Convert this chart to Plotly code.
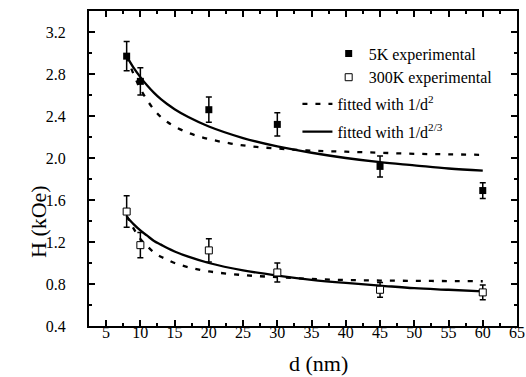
import plotly.graph_objects as go

# experimental data
d_exp = [8, 10, 20, 30, 45, 60]
h_5k = [2.97, 2.73, 2.46, 2.32, 1.92, 1.69]
err_5k = [0.14, 0.13, 0.12, 0.11, 0.10, 0.075]
h_300k = [1.49, 1.17, 1.12, 0.91, 0.745, 0.72]
err_300k = [0.15, 0.12, 0.11, 0.09, 0.07, 0.07]

# fitted curves
d_fit = [8, 9, 10, 11, 12, 13, 14, 15, 17, 20, 25, 30, 35, 40, 45, 50, 55, 60]
fit2_5k = [2.97, 2.80, 2.66, 2.55, 2.46, 2.39, 2.34, 2.30, 2.24, 2.18, 2.12, 2.09, 2.07, 2.06, 2.05, 2.04, 2.035, 2.03]
fit23_5k = [2.97, 2.86, 2.77, 2.69, 2.62, 2.56, 2.51, 2.465, 2.39, 2.30, 2.19, 2.11, 2.05, 2.00, 1.96, 1.93, 1.90, 1.88]
fit2_300k = [1.45, 1.33, 1.23, 1.16, 1.10, 1.06, 1.03, 1.00, 0.96, 0.92, 0.885, 0.865, 0.848, 0.838, 0.833, 0.83, 0.828, 0.826]
fit23_300k = [1.44, 1.37, 1.31, 1.26, 1.21, 1.175, 1.14, 1.11, 1.06, 1.00, 0.93, 0.88, 0.84, 0.81, 0.785, 0.76, 0.745, 0.73]

x_ticks = [5, 10, 15, 20, 25, 30, 35, 40, 45, 50, 55, 60, 65]
y_ticks = [0.4, 0.8, 1.2, 1.6, 2.0, 2.4, 2.8, 3.2]
x_title = "d (nm)"
y_title = "H (kOe)"

FONT = "Liberation Serif, Times New Roman, Times, serif"
fig = go.Figure()

line_kw = dict(width=2.3, color="black")
fig.add_trace(go.Scatter(x=d_fit, y=fit2_5k, mode="lines", line=dict(**line_kw, dash="5px,8px", shape="spline"),
                         name="fitted with 1/d<sup>2</sup>", legend="legend2", legendgroup="f2"))
fig.add_trace(go.Scatter(x=d_fit, y=fit2_300k, mode="lines", line=dict(**line_kw, dash="5px,8px", shape="spline"),
                         showlegend=False))
fig.add_trace(go.Scatter(x=d_fit, y=fit23_5k, mode="lines", line=dict(**line_kw, shape="spline"),
                         name="fitted with 1/d<sup>2/3</sup>", legend="legend2", legendgroup="f23"))
fig.add_trace(go.Scatter(x=d_fit, y=fit23_300k, mode="lines", line=dict(**line_kw, shape="spline"),
                         showlegend=False))

fig.add_trace(go.Scatter(x=d_exp, y=h_5k, mode="markers", name="5K experimental", legend="legend", legendgroup="e5",
                         marker=dict(symbol="square", size=7, color="black"),
                         error_y=dict(type="data", array=err_5k, color="black", thickness=1.5, width=3)))
fig.add_trace(go.Scatter(x=d_exp, y=h_300k, mode="markers", name="300K experimental", legend="legend", legendgroup="e300",
                         marker=dict(symbol="square", size=7, color="white", line=dict(color="black", width=1)),
                         error_y=dict(type="data", array=err_300k, color="black", thickness=1.5, width=3)))

axis_common = dict(showline=True, linecolor="black", linewidth=2, mirror="allticks", ticks="inside",
                   ticklen=6, tickwidth=1.5, tickcolor="black", showgrid=False, zeroline=False,
                   automargin=False,
                   tickfont=dict(family=FONT, size=16, color="black"))

fig.update_xaxes(range=[2.5, 65], tickvals=x_ticks, ticktext=[str(v) for v in x_ticks],
                 minor=dict(dtick=2.5, tick0=2.5, ticks="inside", ticklen=3, tickwidth=1.5, tickcolor="black"),
                 ticklabelstandoff=-9, **axis_common)
fig.update_yaxes(range=[0.4, 3.4], tickvals=y_ticks, ticktext=[f"{v:.1f}" for v in y_ticks],
                 minor=dict(dtick=0.2, tick0=0.4, ticks="inside", ticklen=3, tickwidth=1.5, tickcolor="black"),
                 ticklabelstandoff=18, **axis_common)

title_font = dict(family=FONT, size=22, color="black")
fig.add_annotation(text=x_title, xref="paper", yref="paper", x=(318 - 89) / 428, y=-(363 - 326) / 315,
                   xanchor="center", yanchor="middle", showarrow=False, font=title_font)
fig.add_annotation(text=y_title, xref="paper", yref="paper", x=-(89 - 39) / 428, y=1 - (222 - 11) / 315,
                   xanchor="center", yanchor="middle", showarrow=False, textangle=-90, font=title_font)

leg_font = dict(family=FONT, size=16, color="black")
fig.update_layout(
    width=526, height=377,
    margin=dict(l=89, r=9, t=11, b=51),
    plot_bgcolor="white", paper_bgcolor="white",
    font=dict(family=FONT, size=16, color="black"),
    legend=dict(x=0.56, y=0.919, xanchor="left", yanchor="top", bgcolor="rgba(0,0,0,0)",
                font=leg_font, traceorder="grouped", tracegroupgap=0),
    legend2=dict(x=0.487, y=0.759, xanchor="left", yanchor="top", bgcolor="rgba(0,0,0,0)",
                 font=leg_font, traceorder="grouped", tracegroupgap=4),
    showlegend=True,
)

fig.write_html("out.html", config={"displayModeBar": False},
               post_script="document.body.style.margin='0';")
